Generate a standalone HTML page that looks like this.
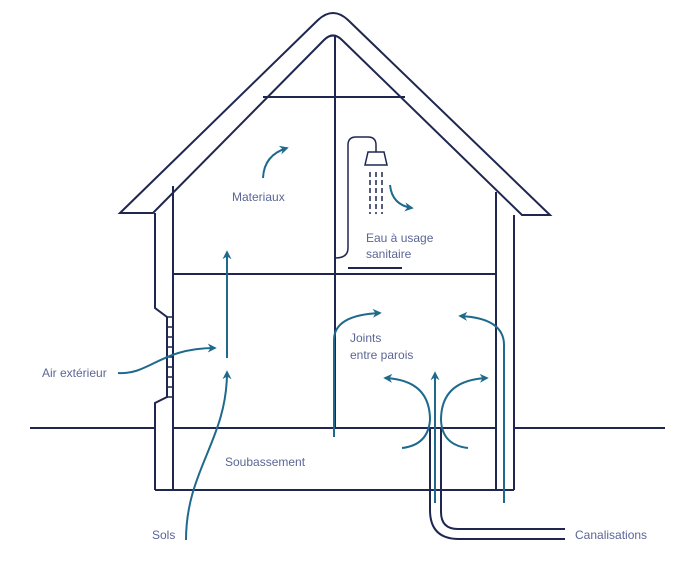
<!DOCTYPE html>
<html><head><meta charset="utf-8"><style>
html,body{margin:0;padding:0;background:#fff;width:700px;height:582px;overflow:hidden}
svg text{font-family:"Liberation Sans",sans-serif;font-size:12px;fill:#5b6696}
</style></head><body>
<svg width="700" height="582" viewBox="0 0 700 582" xmlns="http://www.w3.org/2000/svg">
<defs>
<marker id="a" viewBox="0 0 10 10" refX="8" refY="5" markerWidth="9" markerHeight="9" orient="auto-start-reverse" markerUnits="userSpaceOnUse">
<path d="M0,0 L10,5 L0,10 L3,5 z" fill="#1f6a8c"/></marker>
</defs>
<g fill="none" stroke="#1f2750" stroke-width="2">
<path d="M120,213 L318,20 Q333,6 348,20 L550,215 L522,215 L342,40 Q333,31 324,40 L153,213 Z"/>
<path d="M155,213 L155,308 L167,317 L167,397 L155,403 L155,490"/>
<path d="M173,186 L173,490"/>
<path d="M496,192 L496,490 M514,215 L514,490"/>
<path d="M167,317 L173,317 M167,327 L173,327 M167,337 L173,337 M167,347 L173,347 M167,357 L173,357 M167,367 L173,367 M167,377 L173,377 M167,387 L173,387 M167,397 L173,397" stroke-width="1.5"/>
<path d="M263,97 L405,97"/>
<path d="M173,274 L496,274"/>
<path d="M335,35 L335,428"/>
<path d="M30,428 L155,428 M173,428 L496,428 M514,428 L665,428"/>
<path d="M155,490 L514,490"/>
<path d="M430,428 L430,510 Q430,539 459,539 L565,539"/>
<path d="M441,428 L441,512 Q441,529 458,529 L565,529"/>
<path d="M335,258 Q348,258 348,248 L348,145 Q348,137 356,137 L368,137 Q376,137 376,145 L376,152" stroke-width="1.5"/>
<path d="M368,152 L384,152 L387,165 L365,165 Z" stroke-width="1.5"/>
<path d="M348,268 L402,268"/>
<path d="M370,172 L370,214 M376,172 L376,214 M382,172 L382,214" stroke-dasharray="5,3" stroke-width="1.5"/>
</g>
<g fill="none" stroke="#1f6a8c" stroke-width="2">
<path d="M227,358 L227,252" marker-end="url(#a)"/>
<path d="M263,178 Q264,155 287,148" marker-end="url(#a)"/>
<path d="M390,185 Q392,205 412,208" marker-end="url(#a)"/>
<path d="M118,373 C150,375 160,348 215,348" marker-end="url(#a)"/>
<path d="M186,540 C186,470 227,440 227,372" marker-end="url(#a)"/>
<path d="M334,437 L334,340 Q334,315 380,313" marker-end="url(#a)"/>
<path d="M504,503 L504,345 Q504,318 460,316" marker-end="url(#a)"/>
<path d="M435,503 L435,373" marker-end="url(#a)"/>
<path d="M402,448 Q428,445 430,420 Q430,380 385,378" marker-end="url(#a)"/>
<path d="M468,448 Q442,445 441,420 Q441,380 487,378" marker-end="url(#a)"/>
</g>
<text x="232" y="201">Materiaux</text>
<text x="366" y="242">Eau à usage</text>
<text x="366" y="258">sanitaire</text>
<text x="350" y="342">Joints</text>
<text x="350" y="359">entre parois</text>
<text x="42" y="377">Air extérieur</text>
<text x="225" y="466">Soubassement</text>
<text x="152" y="539">Sols</text>
<text x="575" y="539">Canalisations</text>
</svg>
</body></html>
